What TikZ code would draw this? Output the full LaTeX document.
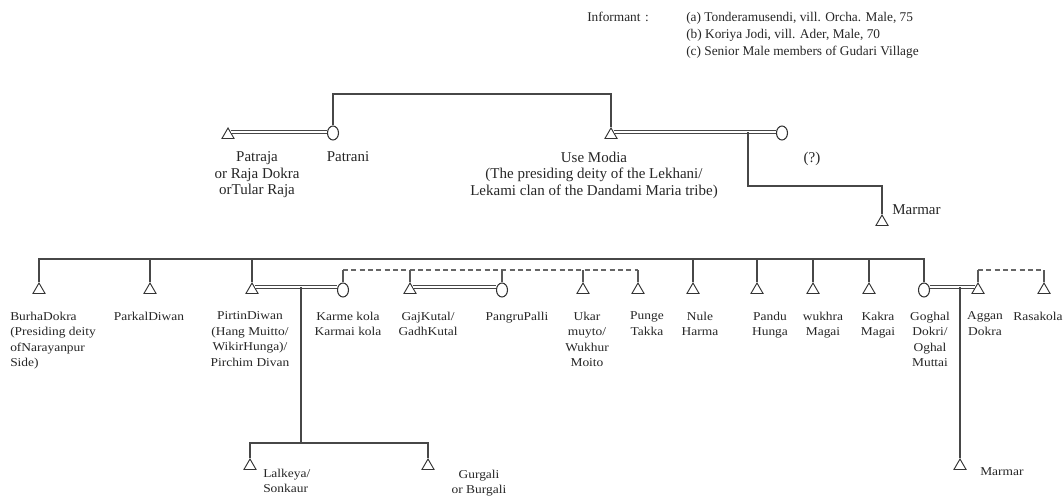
\documentclass[tikz,border=0pt]{standalone}
\usepackage{fontspec}
\setmainfont{Liberation Serif}
\newfontfamily\labfont[FakeStretch=1.12]{Liberation Serif}
\usetikzlibrary{shapes.geometric}
\begin{document}
\begin{tikzpicture}[x=0.75pt,y=-0.75pt,
  kin/.style={draw=black!72, line width=1.1pt},
  dashkin/.style={draw=black!60, line width=1.1pt, dash pattern=on 3.75pt off 2.5pt},
  tick/.style={draw=black!65, line width=0.9pt},
  marr/.style={draw=black!72, line width=0.6pt, double=white, double distance=1.6pt},
  male/.style={regular polygon, regular polygon sides=3, draw=black!80, fill=white, line width=0.7pt, minimum size=10.5pt, inner sep=0pt},
  female/.style={ellipse, draw=black!80, fill=white, line width=0.8pt, minimum width=8.25pt, minimum height=10.5pt, inner sep=0pt},
  info/.style={font=\fontsize{10pt}{12.75pt}\selectfont, text=black!85, inner sep=0pt},
  mid/.style={font=\fontsize{11.25pt}{12.4pt}\selectfont, text=black!85, inner sep=0pt, align=center},
  low/.style={font=\labfont\fontsize{9pt}{11.6pt}\selectfont, text=black!85, inner sep=0pt, align=center},
  ]
\useasboundingbox (0,0) rectangle (1064,500);

% informant
\node[info, anchor=base west] (inf) at (587,21) {Informant\,\,:};
\node[info, anchor=base west] (infa) at (686,21) {(a) Tonderamusendi, vill. Orcha. Male, 75};
\node[info, anchor=base west] (infb) at (686,38) {(b) Koriya Jodi, vill. Ader, Male, 70};
\node[info, anchor=base west] (infc) at (686,55) {(c) Senior Male members of Gudari Village};

% top generation
\node[male] (patraja) at (228,135) {};
\node[female] (patrani) at (333,133) {};
\node[male] (usemodia) at (611,135) {};
\node[female] (wife) at (782,133) {};
\node[male] (marmar1) at (882,222) {};

\node[mid, anchor=north] (lpatraja) at (257,151.6) {Patraja\\or Raja Dokra\\orTular Raja};
\node[mid, anchor=north] (lpatrani) at (348,151.6) {Patrani};
\node[mid, anchor=north] (lusemodia) at (594,151.6) {Use Modia\\(The presiding deity of the Lekhani/\\Lekami clan of the Dandami Maria tribe)};
\node[mid, anchor=north] (lwife) at (812,151.6) {(?)};
\node[mid, anchor=west] (lmarmar1) at (892,210) {Marmar};

\coordinate (tb) at (0,94);
\draw[kin] (patrani.north) -- (patrani.north |- tb) -- (usemodia.north |- tb) -- (usemodia.north);
\draw[marr] (patraja.north east) -- (patrani.west |- patraja.north east);
\draw[marr] (usemodia.north east) -- (wife.west |- usemodia.north east);
\coordinate (um) at (748,0 |- usemodia.north east);
\draw[kin] (um) -- ++(0,54) -| (marmar1.north);

% bottom generation
\node[male] (burha) at (39,290) {};
\node[male] (parkal) at (150,290) {};
\node[male] (pirtin) at (252,290) {};
\node[female] (karme) at (343,290) {};
\node[male] (gaj) at (410,290) {};
\node[female] (pangru) at (502,290) {};
\node[male] (ukar) at (583,290) {};
\node[male] (punge) at (638,290) {};
\node[male] (nule) at (693,290) {};
\node[male] (pandu) at (757,290) {};
\node[male] (wukhra) at (813,290) {};
\node[male] (kakra) at (869,290) {};
\node[female] (goghal) at (924,290) {};
\node[male] (aggan) at (978,290) {};
\node[male] (rasa) at (1044,290) {};

\node[low, anchor=north west, align=left] (lburha) at (10,311.7) {BurhaDokra\\(Presiding deity\\ofNarayanpur\\Side)};
\node[low, anchor=north] (lparkal) at (149,311.7) {ParkalDiwan};
\node[low, anchor=north] (lpirtin) at (250,311.7) {PirtinDiwan\\(Hang Muitto/\\WikirHunga)/\\Pirchim Divan};
\node[low, anchor=north] (lkarme) at (348,311.7) {Karme kola\\Karmai kola};
\node[low, anchor=north] (lgaj) at (428,311.7) {GajKutal/\\GadhKutal};
\node[low, anchor=north] (lpangru) at (517,311.7) {PangruPalli};
\node[low, anchor=north] (lukar) at (587,311.7) {Ukar\\muyto/\\Wukhur\\Moito};
\node[low, anchor=north] (lpunge) at (647,311.7) {Punge\\Takka};
\node[low, anchor=north] (lnule) at (700,311.7) {Nule\\Harma};
\node[low, anchor=north] (lpandu) at (770,311.7) {Pandu\\Hunga};
\node[low, anchor=north] (lwukhra) at (823,311.7) {wukhra\\Magai};
\node[low, anchor=north] (lkakra) at (878,311.7) {Kakra\\Magai};
\node[low, anchor=north] (lgoghal) at (930,311.7) {Goghal\\Dokri/\\Oghal\\Muttai};
\node[low, anchor=north] (laggan) at (985,311.7) {Aggan\\Dokra};
\node[low, anchor=north] (lrasa) at (1038,311.7) {Rasakola};

\coordinate (sb) at (0,259);
\draw[kin] (burha.north) -- (burha.north |- sb) -- (goghal.north |- sb) -- (goghal.north);
\foreach \n in {parkal,pirtin,nule,pandu,wukhra,kakra} \draw[kin] (\n.north |- sb) -- (\n.north);

\coordinate (db) at (0,270);
\draw[dashkin] (karme.north |- db) -- (punge.north |- db);
\foreach \n in {karme,gaj,pangru,ukar,punge} \draw[tick] (\n.north |- db) -- (\n.north);
\draw[dashkin] (aggan.north |- db) -- (rasa.north |- db);
\foreach \n in {aggan,rasa} \draw[tick] (\n.north |- db) -- (\n.north);

\draw[marr] (pirtin.north east) -- (karme.west |- pirtin.north east);
\draw[marr] (gaj.north east) -- (pangru.west |- gaj.north east);
\draw[marr] (goghal.east |- aggan.north west) -- (aggan.north west);

% third generation
\node[male] (lal) at (250,466) {};
\node[male] (gur) at (428,466) {};
\node[male] (marmar2) at (960,466) {};
\node[low, anchor=north west, align=left] (llal) at (263,468.7) {Lalkeya/\\Sonkaur};
\node[low, anchor=north] (lgur) at (479,469.7) {Gurgali\\or Burgali};
\node[low, anchor=west] (lmarmar2) at (980,472) {Marmar};

\coordinate (pk) at (301,0 |- pirtin.north east);
\coordinate (cb) at (301,443);
\draw[kin] (pk) -- (cb);
\draw[kin] (lal.north) |- (cb) -| (gur.north);
\coordinate (ga) at (960,0 |- aggan.north west);
\draw[kin] (ga) -- (marmar2.north);
\end{tikzpicture}
\end{document}
